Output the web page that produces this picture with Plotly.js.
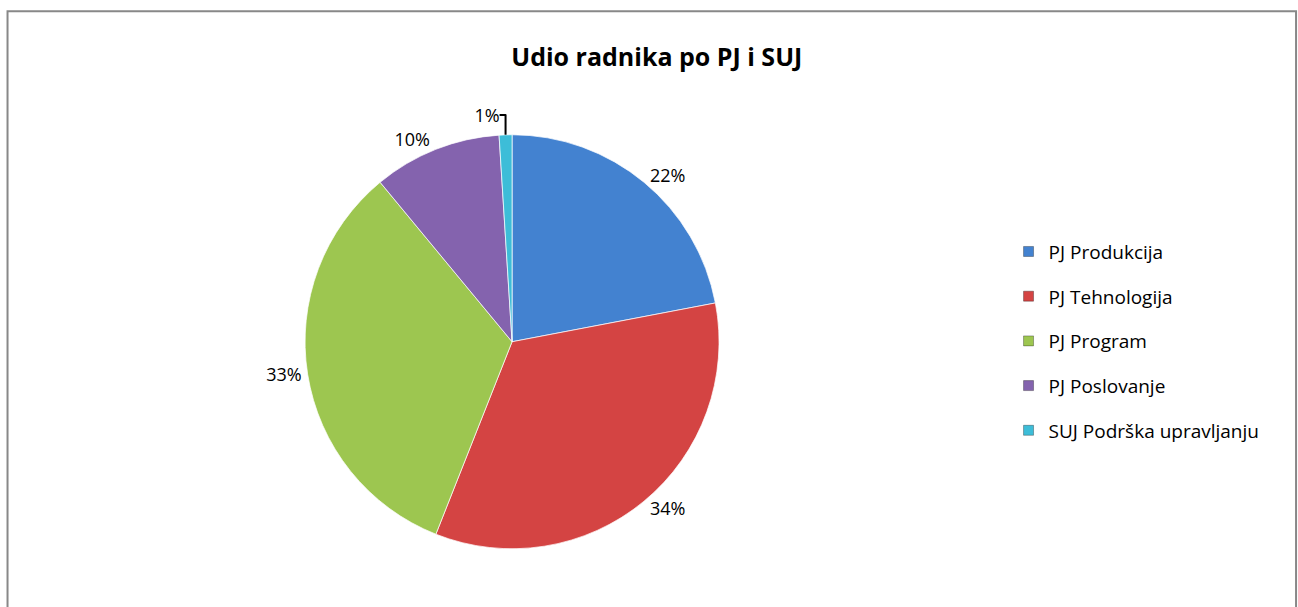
<!DOCTYPE html>
<html>
<head>
<meta charset="utf-8">
<script src="https://cdn.plot.ly/plotly-3.0.1.min.js"></script>
<style>
  html, body { margin: 0; padding: 0; background: #fff; }
  #chart { width: 1298px; height: 607px; }
</style>
</head>
<body>
<div id="chart"></div>
<script>
// Udio radnika po PJ i SUJ - pie chart
const units = ['PJ Produkcija', 'PJ Tehnologija', 'PJ Program', 'PJ Poslovanje', 'SUJ Podrška upravljanju'];
const shares = [22, 34, 33, 10, 1];
const colors = ['#4382D0', '#D44443', '#9DC650', '#8463AE', '#3DBDD8'];

const FONT = '"Open Sans", sans-serif';

const pie = {
    type: 'pie',
    labels: units,
    values: shares,
    sort: false,
    direction: 'clockwise',
    rotation: 0,
    marker: {
        colors: colors,
        line: {color: 'rgba(255,255,255,0.7)', width: 1}
    },
    textinfo: 'percent',
    texttemplate: '%{percent:.0%}',
    textposition: 'outside',
    outsidetextfont: {family: FONT, size: 18, color: '#000'},
    hoverinfo: 'label+percent',
    showlegend: false,
    domain: {x: [0.235, 0.554], y: [0.096, 0.778]}
};

// legend entries as separate groups so the spacing can be opened up
const legendTraces = units.map((name, i) => ({
    type: 'scatter',
    mode: 'markers',
    x: [null],
    y: [null],
    name: name,
    legendgroup: 'g' + i,
    marker: {symbol: 'square', size: 10, color: colors[i], line: {color: 'rgba(0,0,0,0.3)', width: 1}},
    hoverinfo: 'skip'
}));

const layout = {
    width: 1298,
    height: 607,
    margin: {l: 0, r: 0, t: 0, b: 0},
    paper_bgcolor: '#fff',
    plot_bgcolor: '#fff',
    font: {family: FONT, color: '#000'},
    title: {
        text: '<b>Udio radnika po PJ i SUJ</b>',
        font: {family: FONT, size: 25, color: '#000'},
        x: 0.506,
        xanchor: 'center',
        y: 0.906,
        yanchor: 'middle'
    },
    xaxis: {visible: false},
    yaxis: {visible: false},
    showlegend: true,
    legend: {
        x: 0.777,
        xanchor: 'left',
        y: 0.438,
        yanchor: 'middle',
        font: {family: FONT, size: 19, color: '#000'},
        tracegroupgap: 17,
        itemclick: false
    },
    shapes: [{
        type: 'rect',
        xref: 'paper', yref: 'paper',
        x0: 0.0058, x1: 0.9985,
        y0: -0.02, y1: 0.9815,
        line: {color: '#888', width: 2}
    }]
};

Plotly.newPlot('chart', [pie].concat(legendTraces), layout, {displayModeBar: false});
</script>
</body>
</html>
